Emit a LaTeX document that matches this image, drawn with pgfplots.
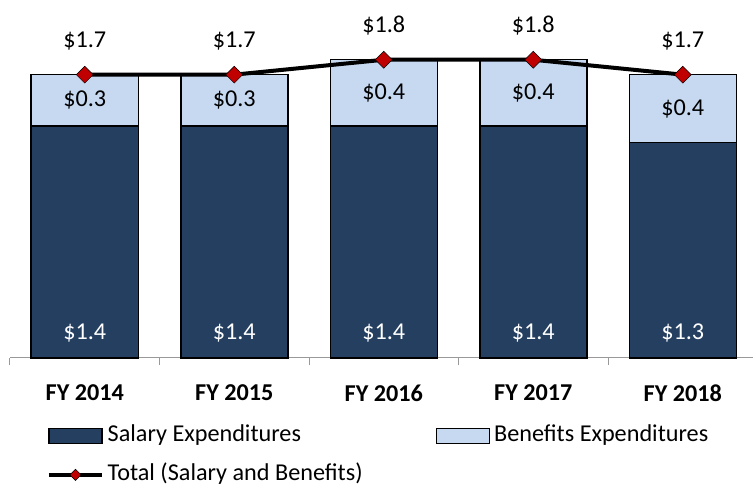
\documentclass[border=0pt]{standalone}
\usepackage{fontspec}
\setmainfont{Carlito}
\usepackage{pgfplots}
\pgfplotsset{compat=1.18}
\usepackage{pgfplotstable}

\definecolor{salary}{HTML}{243F60}
\definecolor{benefit}{HTML}{C6D9F1}
\definecolor{mk}{HTML}{C00000}
\newcommand\fs{\fontsize{24.2}{29}\selectfont}

% values in $ billions
\pgfplotstableread{
x sal ben tot
0 1.40 0.31 1.71
1 1.40 0.31 1.71
2 1.40 0.40 1.80
3 1.40 0.40 1.80
4 1.30 0.41 1.71
}\expdata

\begin{document}
\begin{tikzpicture}
\begin{axis}[
  scale only axis,
  width=747.5pt, height=358pt,
  xmin=-0.5, xmax=4.5, ymin=0, ymax=2.1606,
  axis x line*=bottom, axis y line=none,
  x axis line style={gray!80, line width=1pt},
  xtick={0,...,4},
  xticklabels={FY 2014,FY 2015,FY 2016,FY 2017,FY 2018},
  major tick length=0pt,
  xticklabel style={font=\fs\bfseries, yshift=-23pt},
  extra x ticks={-0.5,0.5,1.5,2.5,3.5,4.5},
  extra x tick labels={},
  extra x tick style={major tick length=7pt, tick align=outside,
    tick style={gray!80, line width=1pt}},
  clip=false,
  /pgf/number format/assume math mode=true,
  legend columns=2,
  legend cell align=left,
  legend style={draw=none, fill=none, inner sep=0pt, font=\fs,
    at={(axis description cs:0.0495,-0.272)}, anchor=west,
    nodes={inner sep=0pt, text height=16pt, text depth=5pt},
    row sep=18pt,
    /tikz/every odd column/.append style={column sep=4pt},
    /tikz/every even column/.append style={column sep=73pt}},
]
\coordinate (O) at (axis cs:-0.5,0);

% light bar = total, dark bar = salary drawn over it
\addplot[ybar, bar width=107pt, bar shift=0pt, fill=benefit, draw=black,
  line width=1.5pt, forget plot] table[x=x, y=tot] {\expdata};
\addplot[ybar, bar width=107pt, bar shift=0pt, fill=salary, draw=black,
  line width=1.5pt, forget plot] table[x=x, y=sal] {\expdata};

% labels
\addplot[draw=none, mark=none, forget plot,
  point meta=\thisrow{ben},
  nodes near coords={\$\pgfmathprintnumber[fixed,fixed zerofill,precision=1]{\pgfplotspointmeta}},
  nodes near coords style={anchor=center, font=\fs, text=black}]
  table[x=x, y expr=\thisrow{sal}+\thisrow{ben}/2] {\expdata};
\addplot[draw=none, mark=none, forget plot,
  point meta=\thisrow{sal},
  nodes near coords={\$\pgfmathprintnumber[fixed,fixed zerofill,precision=1]{\pgfplotspointmeta}},
  nodes near coords style={anchor=center, font=\fs, text=white}]
  table[x=x, y expr=0.15] {\expdata};

% total line
\addplot[black, line width=4pt, mark=square*, mark size=6pt,
  mark options={rotate=45, fill=mk, draw=black, line width=0.5pt},
  point meta=y,
  nodes near coords={\$\pgfmathprintnumber[fixed,fixed zerofill,precision=1]{\pgfplotspointmeta}},
  nodes near coords style={anchor=center, font=\fs, text=black, yshift=34pt},
  forget plot] table[x=x, y=tot] {\expdata};

\addlegendimage{legend image code/.code={
  \draw[fill=salary, draw=black, line width=1.5pt] (0pt,-7.5pt) rectangle (53pt,7.5pt);}}
\addlegendentry{Salary Expenditures}
\addlegendimage{legend image code/.code={
  \draw[fill=benefit, draw=black, line width=1.5pt] (0pt,-7.5pt) rectangle (53pt,7.5pt);}}
\addlegendentry{Benefits Expenditures}
\addlegendimage{legend image code/.code={
  \draw[black, line width=3.5pt] (0pt,0pt) -- (53pt,0pt);
  \draw[black, fill=mk, line width=0.5pt, mark size=4pt]
    plot[mark=square*, mark options={rotate=45}] coordinates {(26.5pt,0pt)};}}
\addlegendentry{Total (Salary and Benefits)}
\end{axis}
\pgfresetboundingbox
\path[use as bounding box] ([shift={(-10pt,-129pt)}]O) rectangle ++(753pt,487pt);
\end{tikzpicture}
\end{document}
